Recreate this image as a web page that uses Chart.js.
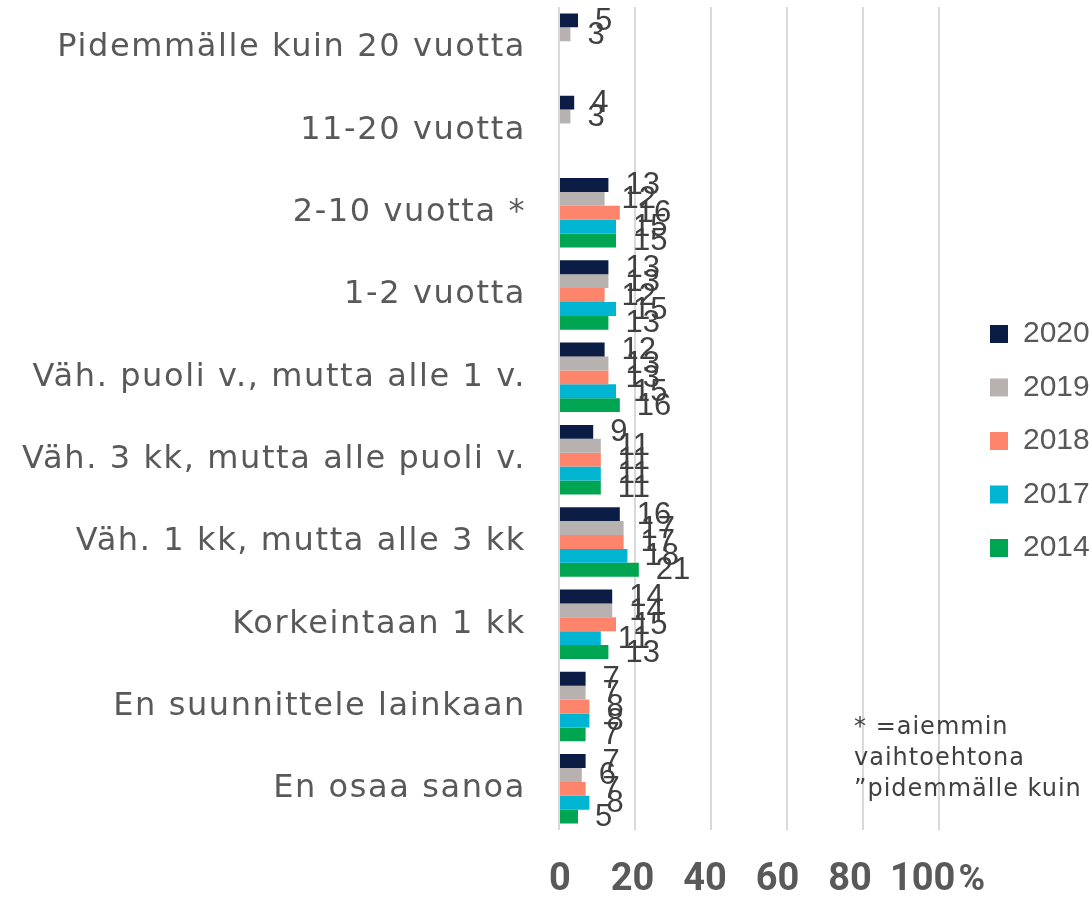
<!DOCTYPE html>
<html>
<head>
<meta charset="utf-8">
<script src="https://cdn.jsdelivr.net/npm/chart.js@4.4.1/dist/chart.umd.min.js"></script>
<style>
  html, body { margin: 0; padding: 0; background: #fff; overflow: hidden; }
  #wrap { position: relative; width: 1089px; height: 898px; overflow: hidden; }
  #note {
    position: absolute; left: 854px; top: 711px;
    font: 24px "DejaVu Sans"; line-height: 31px; letter-spacing: 1px;
    color: #404040; white-space: nowrap;
  }
</style>
</head>
<body>
<div id="wrap">
  <canvas id="barChart" width="1089" height="898"></canvas>
  <div id="note">* =aiemmin<br>vaihtoehtona<br>”pidemmälle kuin 20 vuotta”</div>
</div>
<script>
const categories = [
  "Pidemmälle kuin 20 vuotta",
  "11-20 vuotta",
  "2-10 vuotta *",
  "1-2 vuotta",
  "Väh. puoli v., mutta alle 1 v.",
  "Väh. 3 kk, mutta alle puoli v.",
  "Väh. 1 kk, mutta alle 3 kk",
  "Korkeintaan 1 kk",
  "En suunnittele lainkaan",
  "En osaa sanoa",
];
const years = ["2020", "2019", "2018", "2017", "2014"];
const values2020 = [5, 4, 13, 13, 12, 9, 16, 14, 7, 7];
const values2019 = [3, 3, 12, 13, 13, 11, 17, 14, 7, 6];
const values2018 = [null, null, 16, 12, 13, 11, 17, 15, 8, 7];
const values2017 = [null, null, 15, 15, 15, 11, 18, 11, 8, 8];
const values2014 = [null, null, 15, 13, 16, 11, 21, 13, 7, 5];
const tickValues = [0, 20, 40, 60, 80, 100];

const seriesValues = [values2020, values2019, values2018, values2017, values2014];
const seriesColors = ["#0b1d45", "#b7b2af", "#ff846c", "#00b5d1", "#00a551"];

// numbers after each bar end
const valueLabels = {
  id: "valueLabels",
  afterDatasetsDraw(chart) {
    const ctx = chart.ctx;
    ctx.save();
    ctx.font = "31px 'Liberation Sans'";
    ctx.fillStyle = "#404040";
    ctx.textAlign = "left";
    ctx.textBaseline = "middle";
    chart.data.datasets.forEach((ds, i) => {
      chart.getDatasetMeta(i).data.forEach((bar, j) => {
        if (ds.data[j] == null) return;
        ctx.fillText(String(ds.data[j]), bar.x + 17, bar.y + 1);
      });
    });
    ctx.restore();
    // wider spacing for the category labels, drawn right after this (ticks.z = 1)
    ctx.letterSpacing = "1.6px";
  },
  afterDraw(chart) {
    chart.ctx.letterSpacing = "0px";
  },
};

// "%" after the last tick
const percentSign = {
  id: "percentSign",
  afterDraw(chart) {
    const s = chart.scales.xLabels;
    const ctx = chart.ctx;
    ctx.save();
    ctx.font = "bold 36px Roboto";
    ctx.fillStyle = "#595959";
    ctx.textAlign = "left";
    ctx.textBaseline = "middle";
    ctx.fillText("%", s.getPixelForValue(100) + 36, 881);
    ctx.restore();
  },
};

const ctx = document.getElementById("barChart").getContext("2d");

const barChart = new Chart(ctx, {
  type: "bar",
  data: {
    labels: categories,
    datasets: years.map((y, i) => ({
      label: y,
      data: seriesValues[i],
      backgroundColor: seriesColors[i],
      borderWidth: 0,
      categoryPercentage: 0.845,
      barPercentage: 1,
    })),
  },
  options: {
    indexAxis: "y",
    responsive: false,
    animation: false,
    layout: { padding: { top: 7, left: 0, right: 0, bottom: 0 } },
    scales: {
      x: {
        min: 0,
        max: 107.2,
        afterBuildTicks: (scale) => {
          scale.ticks = tickValues.map((v) => ({ value: v }));
        },
        afterFit: (scale) => {
          scale.height = 0;
        },
        ticks: { display: false },
        grid: { color: "#d9d9d9", lineWidth: 2, drawTicks: false },
        border: { display: false },
      },
      xLabels: {
        type: "linear",
        position: "bottom",
        min: -0.28,
        max: 112.1,
        afterBuildTicks: (scale) => {
          scale.ticks = tickValues.map((v) => ({ value: v }));
        },
        afterFit: (scale) => {
          scale.height = 68;
        },
        ticks: {
          padding: 28,
          color: "#595959",
          font: { family: "Roboto", size: 38, weight: "bold" },
          maxRotation: 0,
        },
        grid: { display: false, drawTicks: false },
        border: { display: false },
      },
      y: {
        afterFit: (scale) => {
          scale.width = 559;
          scale.paddingTop = 0;
          scale.paddingBottom = 0;
        },
        ticks: {
          z: 1,
          padding: 25,
          color: "#595959",
          font: { family: "DejaVu Sans", size: 32 },
        },
        grid: { display: false },
        border: { display: false },
      },
    },
    plugins: {
      legend: {
        position: "right",
        align: "start",
        maxWidth: 122.5,
        title: { display: true, text: "", padding: { top: 276.5, bottom: 0 }, font: { size: 12, lineHeight: 1 } },
        labels: {
          boxWidth: 18,
          boxHeight: 18,
          padding: 23.5,
          color: "#595959",
          font: { family: "Liberation Sans", size: 30 },
        },
      },
      tooltip: { enabled: false },
    },
  },
  plugins: [valueLabels, percentSign],
});
</script>
</body>
</html>
